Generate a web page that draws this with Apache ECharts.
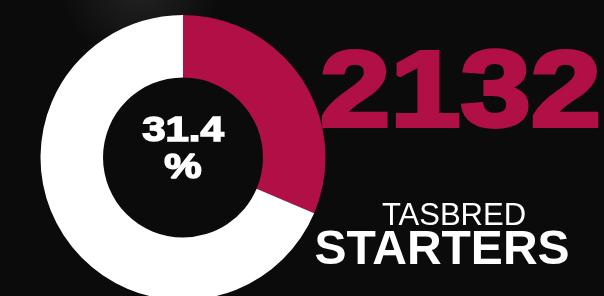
<!DOCTYPE html>
<html>
<head>
<meta charset="utf-8">
<script src="https://cdn.jsdelivr.net/npm/echarts@6/dist/echarts.min.js"></script>
<style>
  html, body { margin: 0; padding: 0; background: #0b0b0b; }
  #chart { width: 604px; height: 296px; }
</style>
</head>
<body>
<div id="chart"></div>
<script>
// values
var sliceNames = ['Starters', 'Others'];
var sliceValues = [31.4, 68.6];
var totalCount = 2132;
var subTitle = 'TASBRED';
var mainTitle = 'STARTERS';

var crimson = '#b01045';

var myChart = echarts.init(document.getElementById('chart'));

var pieData = sliceNames.map(function (n, i) {
    return { name: n, value: sliceValues[i] };
});

var option = {
    backgroundColor: '#0b0b0b',
    animation: false,
    graphic: [
        // faint photo glow behind the chart
        {
            type: 'circle', z: -10,
            shape: { cx: 140, cy: -15, r: 80 },
            style: {
                fill: new echarts.graphic.RadialGradient(0.5, 0.5, 0.5, [
                    { offset: 0, color: 'rgba(255,255,255,0.10)' },
                    { offset: 1, color: 'rgba(255,255,255,0)' }
                ])
            }
        },
        {
            type: 'text', z: 10,
            x: 320, y: 150,
            scaleX: 1.17,
            style: {
                text: String(totalCount),
                font: 'bold 108px "Liberation Sans", Arial, sans-serif',
                fill: crimson, stroke: crimson, lineWidth: 4,
                textAlign: 'left', textVerticalAlign: 'bottom'
            }
        },
        {
            type: 'text', z: 10,
            x: 454, y: 216,
            style: {
                text: subTitle,
                font: '31px "Liberation Sans", Arial, sans-serif',
                fill: '#ffffff',
                textAlign: 'center', textVerticalAlign: 'middle'
            }
        },
        {
            type: 'text', z: 10,
            x: 442, y: 251,
            style: {
                text: mainTitle,
                font: 'bold 48px "Liberation Sans", Arial, sans-serif',
                fill: '#ffffff',
                textAlign: 'center', textVerticalAlign: 'middle'
            }
        },
        {
            type: 'text', z: 10,
            x: 183, y: 150, originX: 0,
            scaleX: 1.2,
            style: {
                text: sliceValues[0] + '\n%',
                font: 'bold 35px "Liberation Sans", Arial, sans-serif',
                lineHeight: 37,
                fill: '#ffffff', stroke: '#ffffff', lineWidth: 1.5,
                textAlign: 'center', textVerticalAlign: 'middle'
            }
        }
    ],
    series: [
        {
            type: 'pie',
            center: [183, 157.5],
            radius: [80, 142.5],
            startAngle: 90,
            clockwise: true,
            silent: true,
            label: { show: false },
            labelLine: { show: false },
            color: [crimson, '#ffffff'],
            itemStyle: { borderWidth: 0 },
            data: pieData
        }
    ]
};

myChart.setOption(option);
</script>
</body>
</html>
